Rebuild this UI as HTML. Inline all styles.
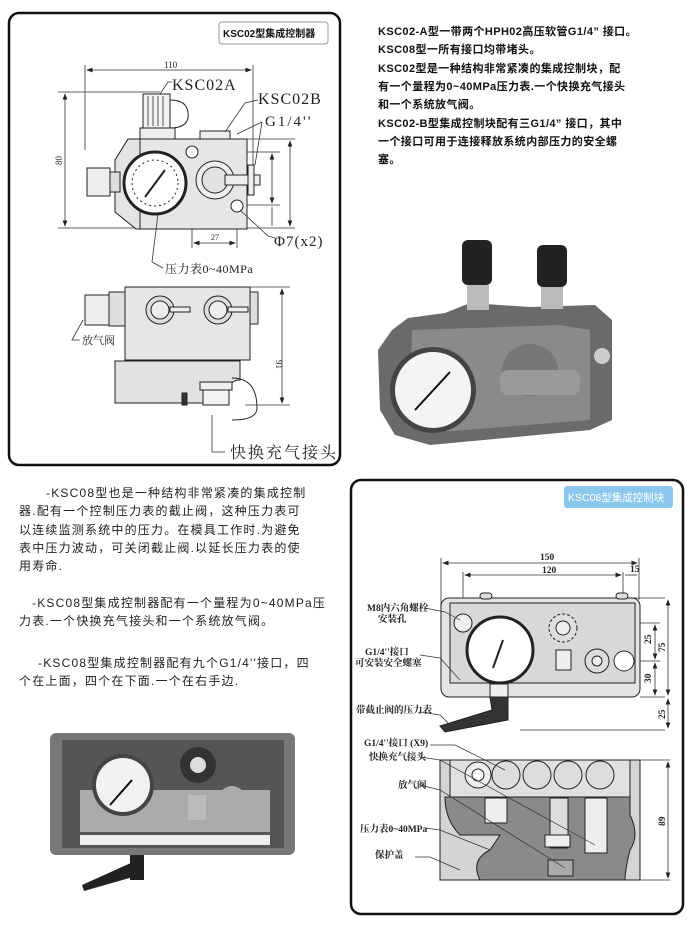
<!DOCTYPE html>
<html><head><meta charset="utf-8"><style>
html,body{margin:0;padding:0;background:#fff;width:694px;height:928px;overflow:hidden}
svg{display:block}
.t{font-family:"Liberation Sans","Noto Sans CJK SC",sans-serif;font-size:11px;fill:#111;letter-spacing:0.4px;font-weight:bold}
.m{font-family:"Liberation Sans","Noto Sans CJK SC",sans-serif;font-size:12px;fill:#222;letter-spacing:1.2px}
.s{font-family:"Liberation Serif","Noto Serif CJK SC",serif;fill:#222}
.l{font-family:"Liberation Serif","Noto Serif CJK SC",serif;font-size:9.5px;fill:#222;font-weight:bold}
</style></head><body>
<svg width="694" height="928" viewBox="0 0 694 928" xmlns="http://www.w3.org/2000/svg">
<defs><marker id="a" markerWidth="8" markerHeight="6" refX="7" refY="3" orient="auto-start-reverse"><path d="M0,0L8,3L0,6z" fill="#222"/></marker></defs>
<!-- Frame 1 -->
<rect x="9" y="13" width="331" height="452" rx="10" fill="none" stroke="#111" stroke-width="2.5"/>
<rect x="219" y="22" width="109" height="22" rx="3" fill="#fff" stroke="#999"/>
<text x="223" y="37" style="font-family:'Liberation Sans','Noto Sans CJK SC',sans-serif;font-size:10px;font-weight:bold;fill:#111">KSC02型集成控制器</text>
<g stroke="#333" stroke-width="0.8" fill="none">
<line x1="85" y1="65" x2="85" y2="150"/><line x1="253" y1="65" x2="253" y2="170"/>
<line x1="87" y1="70" x2="251" y2="70" marker-start="url(#a)" marker-end="url(#a)"/>
<line x1="58" y1="92" x2="160" y2="92"/><line x1="58" y1="228" x2="140" y2="228"/>
<line x1="65" y1="94" x2="65" y2="226" marker-start="url(#a)" marker-end="url(#a)"/>
<line x1="247" y1="139" x2="295" y2="139"/><line x1="200" y1="152" x2="280" y2="152"/><line x1="237" y1="205" x2="280" y2="205"/><line x1="247" y1="228" x2="295" y2="228"/>
<line x1="272" y1="154" x2="272" y2="203" marker-start="url(#a)" marker-end="url(#a)"/>
<line x1="272" y1="207" x2="272" y2="226"/>
<line x1="290" y1="141" x2="290" y2="226" marker-start="url(#a)" marker-end="url(#a)"/>
<line x1="192" y1="160" x2="192" y2="248"/><line x1="237" y1="210" x2="237" y2="248"/>
<line x1="194" y1="243" x2="235" y2="243" marker-start="url(#a)" marker-end="url(#a)"/>
</g>
<g stroke="#222" stroke-width="1">
<path d="M140,139 L128,139 L115,160 L115,212 L136,229 L247,229 L247,139 Z" fill="#e4e4e4"/>
<rect x="140" y="139" width="107" height="90" fill="#e6e6e6"/>
<rect x="140" y="128" width="35" height="11" fill="#eee"/>
<rect x="143" y="94" width="27" height="34" fill="#f2f2f2"/>
<path d="M148,96v30M153,96v30M158,96v30M163,96v30" stroke="#555"/>
<path d="M170,100 q20,0 18,18 q-2,10 -18,10" fill="none"/>
<rect x="200" y="131" width="30" height="8" fill="#eee"/>
<rect x="87" y="168" width="23" height="28" fill="#eee"/>
<rect x="110" y="172" width="10" height="20" fill="#ddd"/>
<circle cx="155" cy="183" r="31" fill="#fff" stroke-width="3"/>
<circle cx="155" cy="183" r="23" fill="#fff" stroke-dasharray="2 3"/>
<line x1="145" y1="197" x2="165" y2="170" stroke-width="2"/>
<circle cx="215" cy="180" r="19" fill="#eee"/><circle cx="215" cy="180" r="13" fill="#e2e2e2"/>
<rect x="225" y="175" width="35" height="10" fill="#eee"/>
<rect x="248" y="165" width="6" height="30" fill="#eee"/>
<circle cx="192" cy="152" r="6" fill="#fff"/><circle cx="237" cy="206" r="6" fill="#fff"/>
</g>
<g stroke="#333" stroke-width="0.8" fill="none">
<path d="M160,94 L168,82 L172,82"/><path d="M225,132 L245,103 L258,100"/><path d="M237,134 L262,122"/><path d="M255,165 L262,122"/>
<path d="M240,210 L268,236 L275,238"/><path d="M158,214 L152,262 L163,268"/>
</g>
<text x="172" y="90" class="s" font-size="16" letter-spacing="1">KSC02A</text>
<text x="258" y="104" class="s" font-size="16" letter-spacing="1">KSC02B</text>
<text x="265" y="126" class="s" font-size="15" letter-spacing="2">G1/4''</text>
<text x="274" y="246" class="s" font-size="15" letter-spacing="1">Φ7(x2)</text>
<text x="165" y="273" class="s" font-size="12" letter-spacing="0.5">压力表0~40MPa</text>
<text x="164" y="68" class="s" font-size="9">110</text>
<text x="211" y="240" class="s" font-size="8">27</text>
<text x="62" y="165" class="s" font-size="9" transform="rotate(-90 62 165)">80</text>
<g stroke="#222" stroke-width="1">
<rect x="125" y="287" width="125" height="73" fill="#e6e6e6"/>
<rect x="250" y="292" width="8" height="32" fill="#ddd"/>
<path d="M115,361 L240,361 L240,380 Q232,380 230,386 L205,386 L205,403 L115,403Z" fill="#e2e2e2"/>
<rect x="182" y="393" width="5" height="12" fill="#333"/>
<rect x="200" y="382" width="32" height="8" fill="#eee"/><rect x="203" y="390" width="26" height="15" fill="#f3f3f3"/>
<path d="M232,378 q25,0 25,30 q0,12 -25,12" fill="none"/>
<rect x="85" y="295" width="24" height="30" fill="#eee"/><rect x="109" y="292" width="16" height="34" fill="#ddd"/>
<circle cx="160" cy="310" r="14" fill="#ddd"/><circle cx="160" cy="310" r="9" fill="#eee"/>
<circle cx="218" cy="310" r="14" fill="#ddd"/><circle cx="218" cy="310" r="9" fill="#eee"/>
<rect x="170" y="307" width="20" height="5" fill="#eee"/><rect x="228" y="307" width="20" height="5" fill="#eee"/>
</g>
<g stroke="#333" stroke-width="0.8" fill="none">
<line x1="245" y1="287" x2="290" y2="287"/><line x1="245" y1="405" x2="290" y2="405"/>
<line x1="282" y1="289" x2="282" y2="403" marker-start="url(#a)" marker-end="url(#a)"/>
<path d="M83,320 L72,340 L80,340"/><path d="M212,415 L212,452 L225,452"/>
</g>
<text x="276" y="360" class="s" font-size="9" transform="rotate(90 276 360)">91</text>
<text x="82" y="344" class="s" font-size="11">放气阀</text>
<text x="230" y="458" class="s" font-size="16" letter-spacing="2">快换充气接头</text>
<!-- top right text -->
<text class="t"><tspan x="378" y="35">KSC02-A型一带两个HPH02高压软管G1/4” 接口。</tspan><tspan x="378" y="53">KSC08型一所有接口均带堵头。</tspan><tspan x="378" y="72">KSC02型是一种结构非常紧凑的集成控制块，配</tspan><tspan x="378" y="90">有一个量程为0~40MPa压力表.一个快换充气接头</tspan><tspan x="378" y="108">和一个系统放气阀。</tspan><tspan x="378" y="127">KSC02-B型集成控制块配有三G1/4” 接口，其中</tspan><tspan x="378" y="145">一个接口可用于连接释放系统内部压力的安全螺</tspan><tspan x="378" y="163">塞。</tspan></text>
<!-- photo 1 -->
<g>
<path d="M392,330 L408,318 L445,313 L470,303 L530,307 L595,305 L612,320 L612,420 L590,430 L430,445 L395,435 L380,410 L378,350Z" fill="#6a6a6a"/>
<path d="M412,330 L560,325 L590,330 L590,420 L440,432 L410,415Z" fill="#8a8a8a"/>
<rect x="462" y="240" width="30" height="45" rx="6" fill="#222"/><rect x="537" y="245" width="30" height="42" rx="6" fill="#222"/>
<rect x="467" y="285" width="22" height="25" fill="#bbb"/><rect x="541" y="287" width="22" height="22" fill="#bbb"/>
<circle cx="433" cy="390" r="43" fill="#444"/><circle cx="433" cy="390" r="38" fill="#f4f4f4"/>
<line x1="415" y1="410" x2="450" y2="372" stroke="#111" stroke-width="2"/>
<ellipse cx="530" cy="370" rx="28" ry="26" fill="#777"/>
<rect x="500" y="370" width="80" height="25" rx="8" fill="#9a9a9a"/>
<circle cx="602" cy="356" r="8" fill="#ccc"/>
</g>
<!-- middle text -->
<text class="m"><tspan x="46" y="497">-KSC08型也是一种结构非常紧凑的集成控制</tspan><tspan x="19" y="515">器.配有一个控制压力表的截止阀，这种压力表可</tspan><tspan x="19" y="534">以连续监测系统中的压力。在模具工作时.为避免</tspan><tspan x="19" y="552">表中压力波动，可关闭截止阀.以延长压力表的使</tspan><tspan x="19" y="570">用寿命.</tspan><tspan x="32" y="607">-KSC08型集成控制器配有一个量程为0~40MPa压</tspan><tspan x="19" y="625">力表.一个快换充气接头和一个系统放气阀。</tspan><tspan x="38" y="667">-KSC08型集成控制器配有九个G1/4''接口，四</tspan><tspan x="19" y="685">个在上面，四个在下面.一个在右手边.</tspan></text>
<!-- photo 2 -->
<g>
<rect x="50" y="733" width="245" height="122" rx="6" fill="#777"/>
<rect x="62" y="740" width="222" height="108" fill="#555"/>
<rect x="80" y="790" width="190" height="42" fill="#aaa"/>
<rect x="80" y="835" width="190" height="10" fill="#eee"/>
<circle cx="123" cy="785" r="31" fill="#444"/><circle cx="123" cy="785" r="27" fill="#f2f2f2"/>
<line x1="110" y1="805" x2="132" y2="780" stroke="#111" stroke-width="2"/>
<circle cx="198" cy="765" r="18" fill="#333"/><circle cx="198" cy="765" r="8" fill="#ddd"/>
<rect x="188" y="795" width="18" height="25" fill="#bbb"/>
<circle cx="232" cy="800" r="14" fill="#aaa"/>
<rect x="130" y="855" width="14" height="25" fill="#222"/>
<path d="M133,862 L82,885 L84,891 L140,875Z" fill="#222"/>
</g>
<!-- Frame 2 -->
<rect x="351" y="480" width="332" height="434" rx="10" fill="none" stroke="#111" stroke-width="2.5"/>
<rect x="564" y="486" width="109" height="22" rx="3" fill="#8cc8ee"/>
<text x="568" y="501" style="font-family:'Liberation Sans','Noto Sans CJK SC',sans-serif;font-size:10.5px;fill:#fff">KSC08型集成控制块</text>
<g stroke="#333" stroke-width="0.8" fill="none">
<line x1="441" y1="558" x2="441" y2="610"/><line x1="639" y1="558" x2="639" y2="600"/>
<line x1="463" y1="572" x2="463" y2="640"/><line x1="623" y1="572" x2="623" y2="665"/>
<line x1="443" y1="563" x2="637" y2="563" marker-start="url(#a)" marker-end="url(#a)"/>
<line x1="465" y1="575" x2="621" y2="575" marker-start="url(#a)" marker-end="url(#a)"/>
<line x1="625" y1="575" x2="637" y2="575"/>
<line x1="630" y1="598" x2="665" y2="598"/><line x1="500" y1="623" x2="660" y2="623"/><line x1="624" y1="661" x2="660" y2="661"/><line x1="640" y1="697" x2="665" y2="697"/><line x1="520" y1="730" x2="665" y2="730"/>
<line x1="668" y1="600" x2="668" y2="695" marker-start="url(#a)" marker-end="url(#a)"/>
<line x1="655" y1="625" x2="655" y2="659" marker-start="url(#a)" marker-end="url(#a)"/>
<line x1="655" y1="663" x2="655" y2="695" marker-start="url(#a)" marker-end="url(#a)"/>
<line x1="668" y1="699" x2="668" y2="728" marker-start="url(#a)" marker-end="url(#a)"/>
<line x1="640" y1="760" x2="670" y2="760"/><line x1="640" y1="880" x2="670" y2="880"/>
<line x1="668" y1="762" x2="668" y2="878" marker-start="url(#a)" marker-end="url(#a)"/>
</g>
<text x="540" y="560" class="l" font-size="9">150</text><text x="542" y="573" class="l">120</text><text x="630" y="572" class="l">15</text>
<text x="651" y="644" class="l" transform="rotate(-90 651 644)">25</text>
<text x="665" y="652" class="l" transform="rotate(-90 665 652)">75</text>
<text x="651" y="683" class="l" transform="rotate(-90 651 683)">30</text>
<text x="665" y="719" class="l" transform="rotate(-90 665 719)">25</text>
<text x="665" y="826" class="l" transform="rotate(-90 665 826)">89</text>
<g stroke="#222" stroke-width="1">
<rect x="441" y="598" width="199" height="99" rx="8" fill="#e4e4e4"/>
<rect x="450" y="603" width="185" height="80" fill="#d8d8d8"/>
<rect x="480" y="593" width="12" height="6" rx="3" fill="#ddd"/><rect x="616" y="593" width="12" height="6" rx="3" fill="#ddd"/>
<circle cx="463" cy="623" r="9" fill="#f0f0f0"/>
<circle cx="563" cy="628" r="14" fill="#ddd" stroke-dasharray="3 2"/><circle cx="563" cy="628" r="7" fill="#eee"/>
<rect x="556" y="650" width="15" height="20" fill="#eee"/>
<circle cx="597" cy="661" r="12" fill="#ddd"/><circle cx="597" cy="661" r="5" fill="#eee"/>
<circle cx="624" cy="661" r="10" fill="#fff"/>
<rect x="490" y="684" width="18" height="14" fill="#eee"/>
<path d="M490,697 L508,697 L508,720 L445,732 L440,726 L492,710Z" fill="#333"/>
<circle cx="500" cy="650" r="33" fill="#fff" stroke-width="3"/>
<line x1="493" y1="668" x2="503" y2="640" stroke-width="2"/>
</g>
<g stroke="#222" stroke-width="1">
<rect x="440" y="760" width="200" height="120" fill="#d4d4d4"/>
<path d="M445,797 L630,797 L630,815 Q640,835 630,850 Q625,870 625,880 L480,880 Q470,860 490,850 L500,835 L460,835 Q445,820 445,797Z" fill="#8a8a8a"/>
<rect x="450" y="760" width="180" height="37" fill="#e0e0e0"/>
<circle cx="478" cy="775" r="13" fill="#eee"/><circle cx="478" cy="775" r="6" fill="#fff"/>
<circle cx="506" cy="775" r="14" fill="#ddd"/><circle cx="537" cy="775" r="14" fill="#ddd"/><circle cx="568" cy="775" r="14" fill="#ddd"/><circle cx="600" cy="775" r="14" fill="#ddd"/>
<rect x="485" y="798" width="22" height="25" fill="#eee"/>
<rect x="550" y="798" width="18" height="50" fill="#ddd"/><rect x="545" y="835" width="25" height="12" fill="#eee"/>
<rect x="585" y="798" width="22" height="55" fill="#eee"/>
<rect x="548" y="860" width="25" height="16" fill="#aaa"/>
</g>
<g stroke="#333" stroke-width="0.7" fill="none">
<path d="M425,608 L445,612 L460,620"/><path d="M420,655 L440,658 L460,680"/><path d="M420,712 L440,715 L450,725"/>
<path d="M430,745 L455,745 L505,770"/><path d="M420,757 L440,760 L595,845"/><path d="M420,785 L440,790 L565,868"/>
<path d="M425,828 L440,830 L490,850"/><path d="M415,857 L430,857 L460,870"/>
</g>
<text class="l"><tspan x="367" y="611">M8内六角螺栓</tspan><tspan x="378" y="622">安装孔</tspan><tspan x="365" y="655">G1/4''接口</tspan><tspan x="355" y="666">可安装安全螺塞</tspan><tspan x="356" y="713">带截止阀的压力表</tspan><tspan x="364" y="746">G1/4''接口 (X9)</tspan><tspan x="369" y="760">快换充气接头</tspan><tspan x="398" y="788">放气阀</tspan><tspan x="360" y="832">压力表0~40MPa</tspan><tspan x="375" y="858">保护盖</tspan></text>
</svg>
</body></html>
